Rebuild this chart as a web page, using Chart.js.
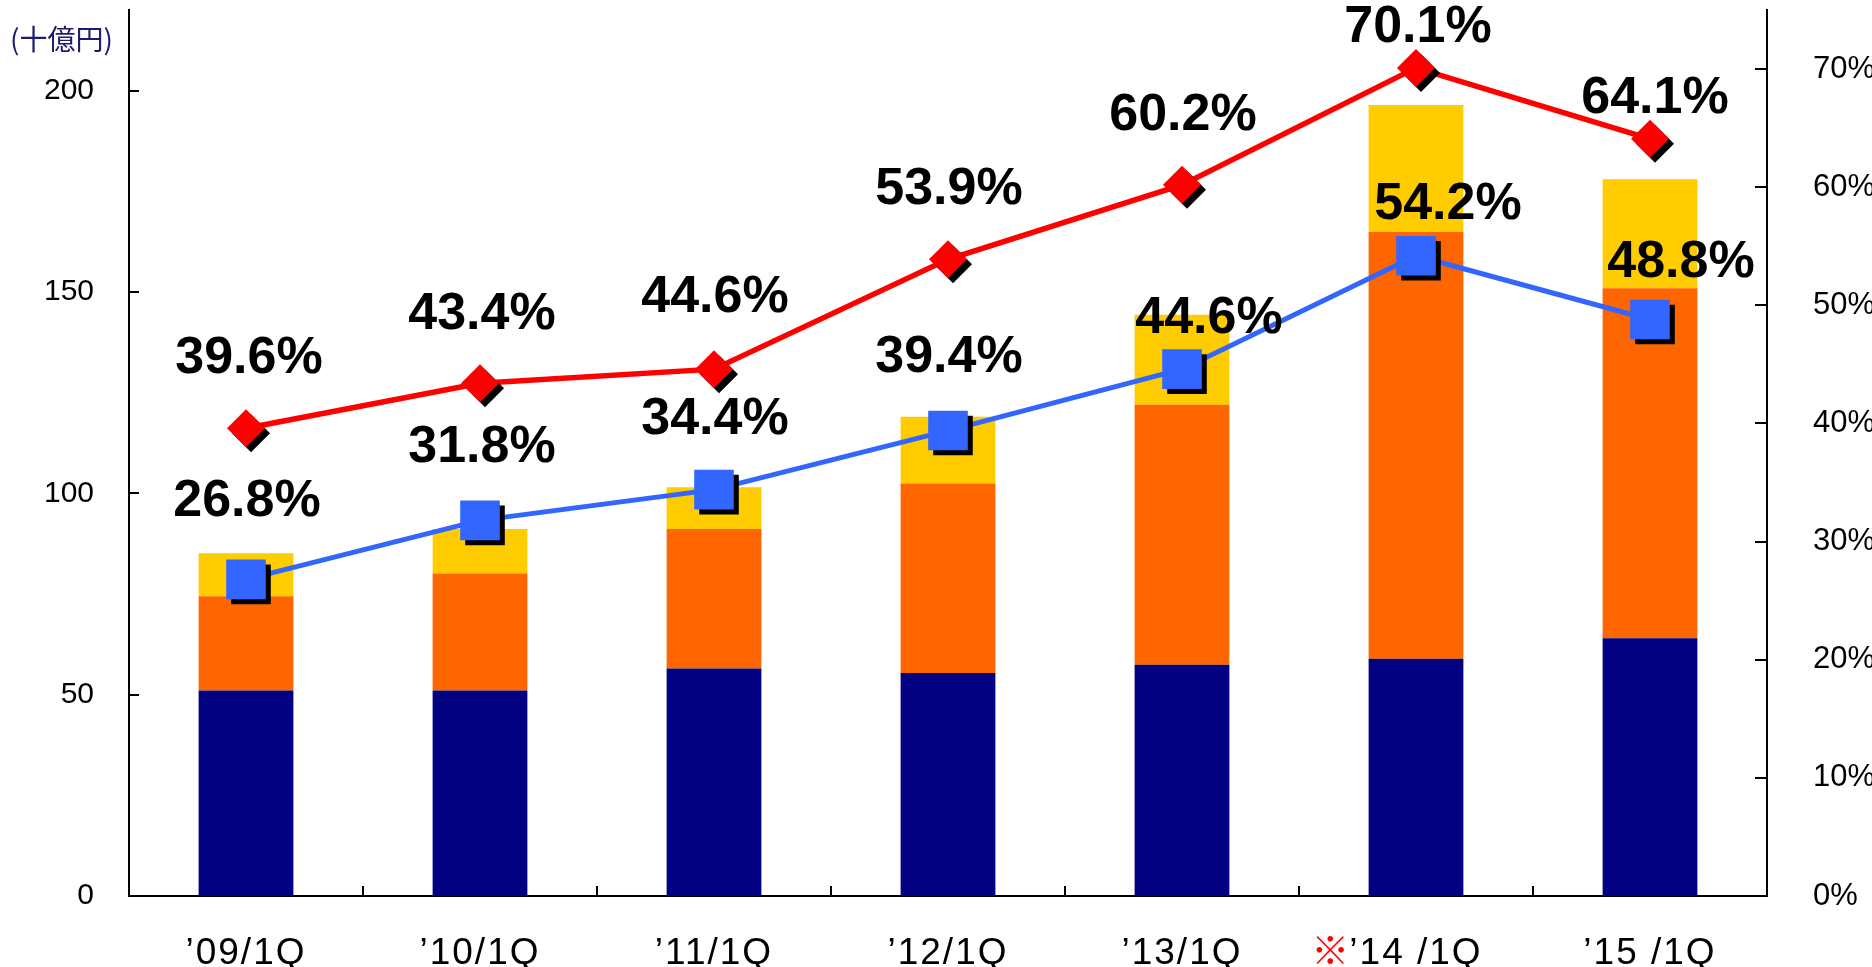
<!DOCTYPE html>
<html>
<head>
<meta charset="utf-8">
<script src="https://cdn.jsdelivr.net/npm/chart.js@4"></script>
<style>
  html, body { margin: 0; padding: 0; background: #fff; }
  #wrap { position: relative; width: 1872px; height: 967px; }
  #unit { position: absolute; left: 10px; top: 24px; font-size: 28px; font-family: "Noto Sans CJK JP", sans-serif; color: #1c1c6b; line-height: 1; }
</style>
</head>
<body>
<div id="wrap">
  <canvas id="myChart" width="1872" height="967"></canvas>
  <div id="unit">(十億円)</div>
</div>
<script>
// data
const categories = ['’09/1Q', '’10/1Q', '’11/1Q', '’12/1Q', '’13/1Q', '※’14 /1Q', '’15 /1Q'];
const navyValues = [51.0, 51.0, 56.5, 55.4, 57.4, 58.9, 64.0];
const orangeValues = [23.4, 29.1, 34.6, 47.0, 64.6, 106.0, 86.9];
const yellowValues = [10.7, 11.0, 10.4, 16.6, 22.3, 31.5, 27.1];
const redRatio = [39.6, 43.4, 44.6, 53.9, 60.2, 70.1, 64.1];
const blueRatio = [26.8, 31.8, 34.4, 39.4, 44.6, 54.2, 48.8];
const leftTicks = [0, 50, 100, 150, 200];
const rightTicks = [0, 10, 20, 30, 40, 50, 60, 70];

// where each % label sits relative to its marker
const redLabelOffsets = [[3, -70], [2, -69], [1, -71], [1, -70], [1, -69], [2, -40], [5, -40]];
const blueLabelOffsets = [[1, -78], [2, -73], [1, -70], [1, -73], [27, -50], [32, -51], [31, -57]];

const font = '"Liberation Sans", Arial, sans-serif';

const shadowPlugin = {
  id: 'shadow',
  beforeDatasetDraw(chart, args) {
    const ds = chart.data.datasets[args.index];
    if (!ds.shadow) return;
    const ctx = chart.ctx;
    ctx.save();
    ctx.shadowColor = '#000';
    ctx.shadowOffsetX = 5;
    ctx.shadowOffsetY = 5;
    ctx.shadowBlur = 0;
  },
  afterDatasetDraw(chart, args) {
    const ds = chart.data.datasets[args.index];
    if (ds.shadow) chart.ctx.restore();
  }
};

const labelPlugin = {
  id: 'pctLabels',
  afterDatasetsDraw(chart) {
    const ctx = chart.ctx;
    ctx.save();
    ctx.font = 'bold 52px ' + font;
    ctx.fillStyle = '#000';
    ctx.textAlign = 'center';
    ctx.textBaseline = 'middle';
    chart.data.datasets.forEach((ds, di) => {
      if (!ds.labelOffsets) return;
      const meta = chart.getDatasetMeta(di);
      meta.data.forEach((pt, i) => {
        const off = ds.labelOffsets[i];
        ctx.fillText(ds.data[i].toFixed(1) + '%', pt.x + off[0], pt.y + off[1]);
      });
    });
    ctx.restore();
  }
};

const axisPlugin = {
  id: 'axisMarks',
  afterDraw(chart) {
    const ctx = chart.ctx;
    const x = chart.scales.x, y = chart.scales.y, y2 = chart.scales.y2;
    const area = chart.chartArea;
    ctx.save();
    ctx.strokeStyle = '#000';
    ctx.lineWidth = 2;
    ctx.beginPath();
    leftTicks.forEach(v => {
      const py = Math.round(y.getPixelForValue(v));
      ctx.moveTo(area.left, py); ctx.lineTo(area.left + 10, py);
    });
    rightTicks.forEach(v => {
      if (v === 0) return;
      const py = Math.round(y2.getPixelForValue(v));
      ctx.moveTo(area.right, py); ctx.lineTo(area.right - 12, py);
    });
    const step = x.getPixelForValue(1) - x.getPixelForValue(0);
    for (let i = 0; i < categories.length - 1; i++) {
      const px = Math.round(x.getPixelForValue(i) + step / 2);
      ctx.moveTo(px, area.bottom); ctx.lineTo(px, area.bottom - 10);
    }
    ctx.stroke();

    // category labels, the note mark in red
    ctx.font = '37px ' + font;
    ctx.letterSpacing = '2px';
    ctx.textBaseline = 'alphabetic';
    ctx.textAlign = 'center';
    categories.forEach((lab, i) => {
      const px = x.getPixelForValue(i);
      const py = area.bottom + 68;
      let text = lab;
      if (text.startsWith('※')) {
        text = text.slice(1);
        const w = ctx.measureText(text).width;
        ctx.save();
        ctx.fillStyle = '#ff0000';
        ctx.font = '38px "Noto Sans CJK JP", sans-serif';
        ctx.textAlign = 'right';
        ctx.fillText('※', px - w / 2 + 2, py);
        ctx.restore();
      }
      ctx.fillStyle = '#000';
      ctx.fillText(text, px, py);
    });
    ctx.restore();
  }
};

function fixWidth(w) {
  return scale => { scale.width = w; scale.paddingTop = 0; scale.paddingBottom = 0; };
}

const ctx = document.getElementById('myChart').getContext('2d');
const myChart = new Chart(ctx, {
  type: 'bar',
  data: {
    labels: categories,
    datasets: [
      { label: 'navy', data: navyValues, backgroundColor: '#000080', order: 3, yAxisID: 'y' },
      { label: 'orange', data: orangeValues, backgroundColor: '#ff6600', order: 3, yAxisID: 'y' },
      { label: 'yellow', data: yellowValues, backgroundColor: '#ffcc00', order: 3, yAxisID: 'y' },
      { type: 'line', label: 'red line', data: redRatio, borderColor: '#ff0000', borderWidth: 5.5, pointRadius: 0, yAxisID: 'y2', order: 2 },
      { type: 'line', label: 'blue line', data: blueRatio, borderColor: '#3366ff', borderWidth: 5, pointRadius: 0, yAxisID: 'y2', order: 2 },
      { type: 'line', label: 'red', data: redRatio, showLine: false, pointStyle: 'rectRot', pointRadius: 19,
        backgroundColor: '#ff0000', borderWidth: 0, yAxisID: 'y2', order: 1, shadow: true, labelOffsets: redLabelOffsets },
      { type: 'line', label: 'blue', data: blueRatio, showLine: false, pointStyle: 'rect', pointRadius: 28,
        backgroundColor: '#3366ff', borderWidth: 0, yAxisID: 'y2', order: 1, shadow: true, labelOffsets: blueLabelOffsets }
    ]
  },
  options: {
    responsive: false,
    animation: false,
    layout: { autoPadding: false, padding: { top: 10, left: 0, right: 0, bottom: 0 } },
    plugins: { legend: { display: false }, tooltip: { enabled: false } },
    datasets: { bar: { barPercentage: 0.405, categoryPercentage: 1 } },
    scales: {
      x: {
        stacked: true,
        grid: { display: false },
        border: { display: true, color: '#000', width: 2 },
        ticks: { display: false },
        afterFit: s => { s.height = 71; s.paddingLeft = 0; s.paddingRight = 0; }
      },
      y: {
        stacked: true,
        position: 'left',
        min: 0, max: 220,
        grid: { display: false },
        border: { display: true, color: '#000', width: 2 },
        afterBuildTicks: s => { s.ticks = leftTicks.map(v => ({ value: v })); },
        ticks: { color: '#000', font: { family: font, size: 30 }, padding: 27 },
        afterFit: fixWidth(129)
      },
      y2: {
        position: 'right',
        min: 0, max: 75,
        grid: { display: false },
        border: { display: true, color: '#000', width: 2 },
        afterBuildTicks: s => { s.ticks = rightTicks.map(v => ({ value: v })); },
        ticks: { color: '#000', font: { family: font, size: 31 }, padding: 38, callback: v => v + '%' },
        afterFit: fixWidth(105)
      }
    }
  },
  plugins: [shadowPlugin, labelPlugin, axisPlugin]
});
</script>
</body>
</html>
